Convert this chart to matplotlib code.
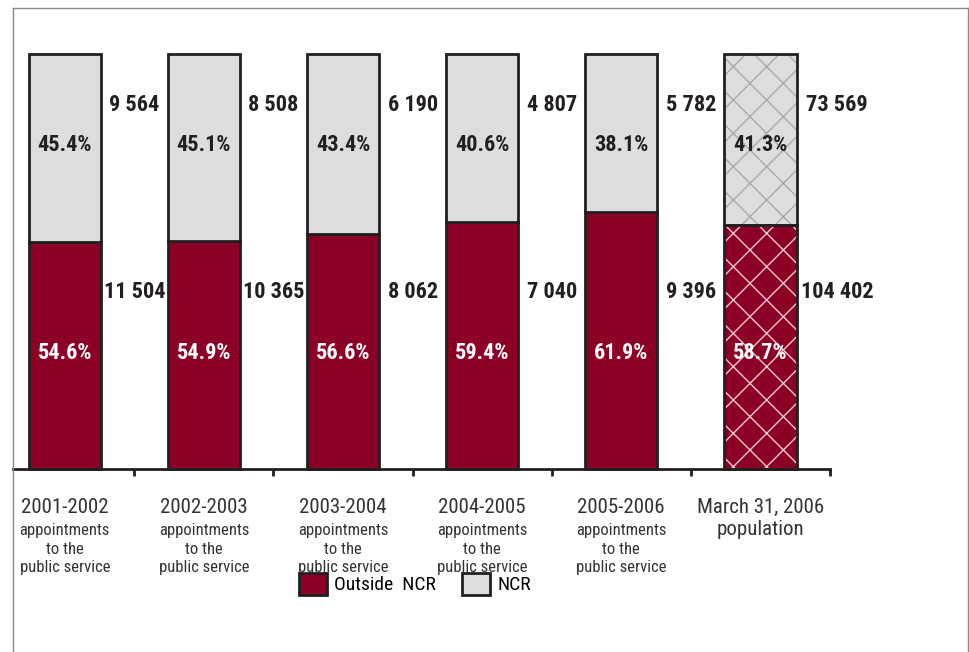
import matplotlib
matplotlib.use("Agg")
import matplotlib.pyplot as plt
from matplotlib.patches import Patch
from matplotlib.lines import Line2D

# Share of appointments / population, inside vs outside the NCR
periods = ["2001-2002", "2002-2003", "2003-2004", "2004-2005", "2005-2006", "March 31, 2006"]
subtitles = ["appointments\nto the\npublic service"] * 5 + ["population"]
pct_outside = [54.6, 54.9, 56.6, 59.4, 61.9, 58.7]
pct_ncr = [45.4, 45.1, 43.4, 40.6, 38.1, 41.3]
count_outside = [11504, 10365, 8062, 7040, 9396, 104402]
count_ncr = [9564, 8508, 6190, 4807, 5782, 73569]

MAROON = "#8c0026"
GREY = "#dcdddf"
DARK = "#231f20"
TEXT = "#333333"

plt.rcParams["font.family"] = ["Roboto Condensed", "DejaVu Sans"]
plt.rcParams["hatch.linewidth"] = 1.0


def fmt(n):
    return f"{n:,}".replace(",", " ")


W, H = 969, 652
fig = plt.figure(figsize=(W / 100, H / 100), dpi=100)

# axes placed in pixel terms: x 13..830, y 54..469 (from top)
ax = fig.add_axes([13 / W, (H - 469) / H, (830 - 13) / W, (469 - 54) / H])
ax.set_xlim(-0.372, 5.5)
ax.set_ylim(0, 100)

x = list(range(len(periods)))
width = 0.52

for i in x:
    last = i == len(x) - 1
    if last:
        # hatched fill first, outline drawn on top
        ax.bar(i, pct_outside[i], width, color=MAROON, edgecolor="#f2c9d2",
               hatch="x", linewidth=0, clip_on=False)
        ax.bar(i, pct_ncr[i], width, bottom=pct_outside[i], color=GREY,
               edgecolor="#a8a8a8", hatch="x", linewidth=0, clip_on=False)
        ax.bar(i, pct_outside[i], width, fill=False, edgecolor=DARK, linewidth=2, clip_on=False)
        ax.bar(i, pct_ncr[i], width, bottom=pct_outside[i], fill=False,
               edgecolor=DARK, linewidth=2, clip_on=False)
    else:
        ax.bar(i, pct_outside[i], width, color=MAROON, edgecolor=DARK,
               linewidth=2, clip_on=False)
        ax.bar(i, pct_ncr[i], width, bottom=pct_outside[i], color=GREY,
               edgecolor=DARK, linewidth=2, clip_on=False)

    # percentage labels inside the bars
    ax.text(i, 78, f"{pct_ncr[i]}%", ha="center", va="center",
            fontsize=16, fontweight="bold", color=DARK)
    ax.text(i, 28, f"{pct_outside[i]}%", ha="center", va="center",
            fontsize=16, fontweight="bold", color="white")

    # counts to the right of each bar
    dx = 0.55 if last else 0.5
    ax.text(i + dx, 87.7, fmt(count_ncr[i]), ha="center", va="center",
            fontsize=16, fontweight="bold", color=DARK)
    ax.text(i + dx, 42.7, fmt(count_outside[i]), ha="center", va="center",
            fontsize=16, fontweight="bold", color=DARK)

    # category labels under the axis
    if last:
        ax.annotate(periods[i] + "\n" + subtitles[i], xy=(i, 0), xycoords="data",
                    xytext=(0, -21), textcoords="offset points", ha="center", va="top",
                    fontsize=15, color=TEXT, linespacing=1.2, annotation_clip=False)
    else:
        ax.annotate(periods[i], xy=(i, 0), xycoords="data",
                    xytext=(0, -21), textcoords="offset points", ha="center", va="top",
                    fontsize=15, color=TEXT, annotation_clip=False)
        ax.annotate(subtitles[i], xy=(i, 0), xycoords="data",
                    xytext=(0, -39), textcoords="offset points", ha="center", va="top",
                    fontsize=12, color=TEXT, linespacing=1.3, annotation_clip=False)

for side in ["left", "right", "top"]:
    ax.spines[side].set_visible(False)
ax.spines["bottom"].set_color(DARK)
ax.spines["bottom"].set_linewidth(2)
ax.set_xticks([i + 0.5 for i in x])
ax.set_xticklabels([])
ax.tick_params(axis="x", direction="out", length=5, width=2, color=DARK)
ax.set_yticks([])

handles = [Patch(facecolor=MAROON, edgecolor=DARK, linewidth=2, label="Outside  NCR"),
           Patch(facecolor=GREY, edgecolor=DARK, linewidth=2, label="NCR")]
fig.legend(handles=handles, loc="center", bbox_to_anchor=(415 / W, 1 - 584 / H),
           ncol=2, frameon=False, fontsize=14, handlelength=1.44, handleheight=1.44,
           handletextpad=0.36, columnspacing=1.34)

# light frame round the figure (open at the bottom)
fl, fr, ft = 13 / W, 968 / W, 1 - 8 / H
for xs, ys in [([fl, fl], [0, ft]), ([fl, fr], [ft, ft]), ([fr, fr], [ft, 0])]:
    fig.add_artist(Line2D(xs, ys, color="#8a8a8a", linewidth=1))

fig.savefig("out.png", dpi=100)
